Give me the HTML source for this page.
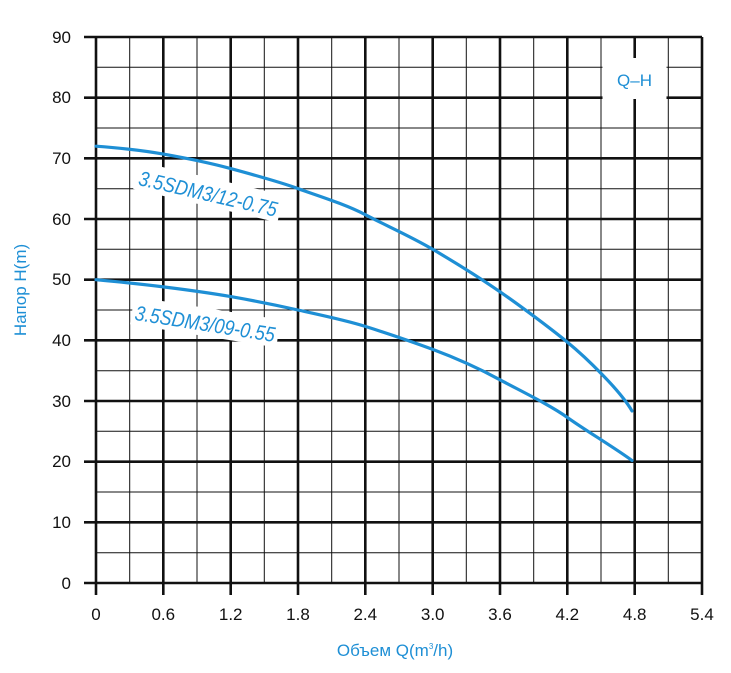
<!DOCTYPE html>
<html><head><meta charset="utf-8"><style>
html,body{margin:0;padding:0;background:#fff;width:731px;height:673px;overflow:hidden}
</style></head><body>
<svg width="731" height="673" xmlns="http://www.w3.org/2000/svg" font-family="Liberation Sans, sans-serif">
<g stroke="#111" stroke-width="1">
<line x1="129.7" y1="37" x2="129.7" y2="583"/><line x1="197" y1="37" x2="197" y2="583"/><line x1="264.3" y1="37" x2="264.3" y2="583"/><line x1="331.7" y1="37" x2="331.7" y2="583"/><line x1="399" y1="37" x2="399" y2="583"/><line x1="466.3" y1="37" x2="466.3" y2="583"/><line x1="533.7" y1="37" x2="533.7" y2="583"/><line x1="601" y1="37" x2="601" y2="583"/><line x1="668.3" y1="37" x2="668.3" y2="583"/>
<line x1="96" y1="552.7" x2="702" y2="552.7"/><line x1="96" y1="492" x2="702" y2="492"/><line x1="96" y1="431.3" x2="702" y2="431.3"/><line x1="96" y1="370.7" x2="702" y2="370.7"/><line x1="96" y1="310" x2="702" y2="310"/><line x1="96" y1="249.3" x2="702" y2="249.3"/><line x1="96" y1="188.7" x2="702" y2="188.7"/><line x1="96" y1="128" x2="702" y2="128"/><line x1="96" y1="67.3" x2="702" y2="67.3"/>
</g>
<g stroke="#111" stroke-width="2.6">
<line x1="96" y1="37" x2="96" y2="595"/><line x1="163.3" y1="37" x2="163.3" y2="595"/><line x1="230.7" y1="37" x2="230.7" y2="595"/><line x1="298" y1="37" x2="298" y2="595"/><line x1="365.3" y1="37" x2="365.3" y2="595"/><line x1="432.7" y1="37" x2="432.7" y2="595"/><line x1="500" y1="37" x2="500" y2="595"/><line x1="567.3" y1="37" x2="567.3" y2="595"/><line x1="634.7" y1="37" x2="634.7" y2="595"/><line x1="702" y1="37" x2="702" y2="595"/>
<line x1="84" y1="583" x2="702" y2="583"/><line x1="84" y1="522.3" x2="702" y2="522.3"/><line x1="84" y1="461.7" x2="702" y2="461.7"/><line x1="84" y1="401" x2="702" y2="401"/><line x1="84" y1="340.3" x2="702" y2="340.3"/><line x1="84" y1="279.7" x2="702" y2="279.7"/><line x1="84" y1="219" x2="702" y2="219"/><line x1="84" y1="158.3" x2="702" y2="158.3"/><line x1="84" y1="97.7" x2="702" y2="97.7"/><line x1="84" y1="37" x2="702" y2="37"/>
</g>
<rect x="602.5" y="58" width="64" height="41" fill="#fff"/>
<text x="634.5" y="86" font-size="17" fill="#1e8fd5" text-anchor="middle">Q–H</text>
<g fill="none" stroke="#1e8fd5" stroke-width="3.2" stroke-linecap="round">
<path d="M96,146.2 C120,148 140,150 163.3,154.1 S210,163 230.7,168.6 S280,182 298,188.6 S345,204 365.3,214.7 S410,236 432.7,249.3 S480,278 500,291.8 S550,328 567.3,342.1 S620,390 632,411"/>
<path d="M96,279.7 C120,282 140,284 163.3,286.9 S210,293 230.7,296.6 S280,306 298,310 S345,320 365.3,326.4 S410,341 432.7,349.4 S480,369 500,379.8 S550,405 567.3,417.4 S615,448 632,460.5"/>
</g>
<g transform="translate(208,194) rotate(13)">
<rect x="-74" y="-16" width="148" height="28" fill="#fff"/>
<text x="0" y="7" font-size="21" fill="#1e8fd5" text-anchor="middle" font-style="italic" transform="scale(0.86,1)">3.5SDM3/12-0.75</text>
</g>
<g transform="translate(205,324) rotate(9)">
<rect x="-74" y="-16" width="148" height="28" fill="#fff"/>
<text x="0" y="7" font-size="21" fill="#1e8fd5" text-anchor="middle" font-style="italic" transform="scale(0.86,1)">3.5SDM3/09-0.55</text>
</g>
<g font-size="17" fill="#111" text-anchor="end">
<text x="71" y="589">0</text><text x="71" y="528">10</text><text x="71" y="467">20</text><text x="71" y="407">30</text><text x="71" y="346">40</text><text x="71" y="285">50</text><text x="71" y="225">60</text><text x="71" y="164">70</text><text x="71" y="103">80</text><text x="71" y="43">90</text>
</g>
<g font-size="17" fill="#111" text-anchor="middle">
<text x="96" y="620">0</text><text x="163.3" y="620">0.6</text><text x="230.7" y="620">1.2</text><text x="298" y="620">1.8</text><text x="365.3" y="620">2.4</text><text x="432.7" y="620">3.0</text><text x="500" y="620">3.6</text><text x="567.3" y="620">4.2</text><text x="634.7" y="620">4.8</text><text x="702" y="620">5.4</text>
</g>
<text x="395" y="656" font-size="17" fill="#1e8fd5" text-anchor="middle">Объем Q(m<tspan font-size="8" dy="-7">3</tspan><tspan dy="7">/h)</tspan></text>
<text transform="translate(26,290) rotate(-90)" font-size="17" fill="#1e8fd5" text-anchor="middle">Напор H(m)</text>
</svg>
</body></html>
